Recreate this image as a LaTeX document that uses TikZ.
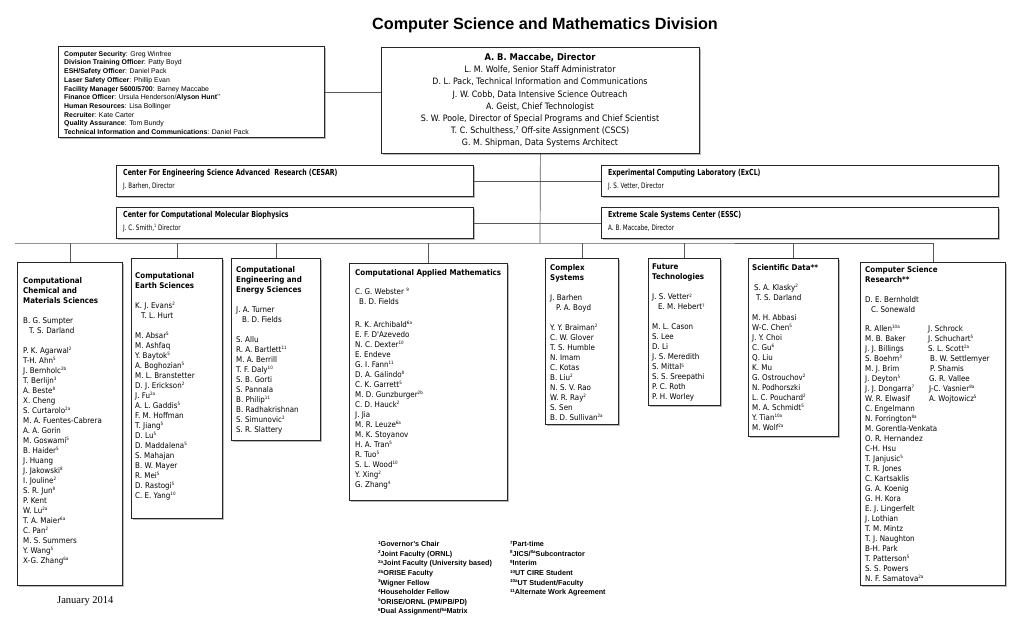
\documentclass[tikz,border=0pt]{standalone}
\usepackage{fontspec}
\setmainfont{Liberation Sans}
\newfontfamily\tah{DejaVu Sans}[FakeStretch=0.9]
\newfontfamily\cnd{DejaVu Sans}[FakeStretch=0.75]
\newfontfamily\tnr{Liberation Serif}
\usetikzlibrary{shadows}
\newcommand\su[1]{\raisebox{2.6pt}{\fontsize{4.5}{4.5}\selectfont #1}}
\newcommand\fsu[1]{\raisebox{2.4pt}{\fontsize{4.5}{4.5}\selectfont #1}}
\newcommand\ind{\hspace*{6pt}}
\newcommand\cf{\tah\fontsize{7.9}{10}\selectfont}
\tikzset{
  box/.style={draw=black!85, line width=0.8pt, fill=white, inner sep=0pt, anchor=north west,
    drop shadow={shadow xshift=1.6pt, shadow yshift=-1.6pt, fill=black!45, opacity=0.6}},
  txt/.style={anchor=north west, inner sep=0pt, align=left, font=\cf},
  conn/.style={draw=black!65, line width=0.7pt},
}
\begin{document}
\begin{tikzpicture}[x=1pt,y=-1pt]
\useasboundingbox (0,0) rectangle (1023,621);
\fill[white] (0,0) rectangle (1023,621);

\node[font=\fontsize{16.2}{18}\selectfont\bfseries, inner sep=0pt] (title) at (545,25) {Computer Science and Mathematics Division};

% admin box
\node[box, minimum width=266pt, minimum height=91pt] (admin) at (58,46) {};
\node[anchor=north west, inner sep=0pt, align=left, font=\fontsize{6.9}{8.7}\selectfont] (admint) at (64,51) {%
\textbf{Computer Security}: Greg Winfree\\
\textbf{Division Training Officer}: Patty Boyd\\
\textbf{ESH/Safety Officer}: Daniel Pack\\
\textbf{Laser Safety Officer}: Phillip Evan\\
\textbf{Facility Manager 5600/5700}: Barney Maccabe\\
\textbf{Finance Officer}: Ursula Henderson/\textbf{Alyson Hunt}\raisebox{2pt}{\fontsize{4.5}{4.5}\selectfont **}\\
\textbf{Human Resources}: Lisa Bollinger\\
\textbf{Recruiter}: Kate Carter\\
\textbf{Quality Assurance}: Tom Bundy\\
\textbf{Technical Information and Communications}: Daniel Pack};

% director box
\node[box, minimum width=318pt, minimum height=106pt] (dir) at (381,47) {};
\node[anchor=north, inner sep=0pt, align=center, font=\tah\fontsize{8.8}{12.1}\selectfont] (dirt) at (540,53.5) {%
\textbf{\fontsize{9.3}{11}\selectfont A. B. Maccabe, Director}\\
L. M. Wolfe, Senior Staff Administrator\\
D. L. Pack, Technical Information and Communications\\
J. W. Cobb, Data Intensive Science Outreach\\
A. Geist, Chief Technologist\\
S. W. Poole, Director of Special Programs and Chief Scientist\\
T. C. Schulthess,\raisebox{3pt}{\fontsize{5.5}{5.5}\selectfont 7} Off-site Assignment (CSCS)\\
G. M. Shipman, Data Systems Architect};

\draw[conn] (admin.east) -- (admin.east -| dir.west);

% center boxes
\node[box, minimum width=357pt, minimum height=31pt] (cesar) at (116,165) {};
\node[box, minimum width=397pt, minimum height=31pt] (excl) at (601,165) {};
\node[box, minimum width=357pt, minimum height=31pt] (cmb) at (116,207) {};
\node[box, minimum width=397pt, minimum height=31pt] (essc) at (601,207) {};
\tikzset{ctr/.style={anchor=north west, inner sep=0pt, align=left, font=\cnd\fontsize{7.5}{12.5}\selectfont}}
\node[ctr] (cesart) at (123,169) {\textbf{\fontsize{8.3}{9}\selectfont Center For Engineering Science Advanced\ \ Research (CESAR)}\\J. Barhen, Director};
\node[ctr] (exclt) at (608,169) {\textbf{\fontsize{8.3}{9}\selectfont Experimental Computing Laboratory (ExCL)}\\J. S. Vetter, Director};
\node[ctr] (cmbt) at (123,211) {\textbf{\fontsize{8.3}{9}\selectfont Center for Computational Molecular Biophysics}\\J. C. Smith,\raisebox{2.5pt}{\fontsize{4.5}{4.5}\selectfont 1} Director};
\node[ctr] (essct) at (608,211) {\textbf{\fontsize{8.3}{9}\selectfont Extreme Scale Systems Center (ESSC)}\\A. B. Maccabe, Director};

\coordinate (busc) at (540,243);
\coordinate (busl) at (15,243);
\draw[conn] (dir.south) -- (busc);
\draw[conn] (cesar.east) -- (excl.west);
\draw[conn] (cmb.east) -- (essc.west);

% columns
\node[box, minimum width=105pt, minimum height=323pt] (c1) at (17,262) {};
\node[box, minimum width=91pt, minimum height=260pt] (c2) at (131,258) {};
\node[box, minimum width=89pt, minimum height=182pt] (c3) at (231,258) {};
\node[box, minimum width=158pt, minimum height=237pt] (c4) at (349,263) {};
\node[box, minimum width=73pt, minimum height=166pt] (c5) at (545,258) {};
\node[box, minimum width=72pt, minimum height=147pt] (c6) at (648,258) {};
\node[box, minimum width=90pt, minimum height=178pt] (c7) at (748,258) {};
\node[box, minimum width=145pt, minimum height=323pt] (c8) at (860,262) {};

\draw[conn] (busl) -- (busc) -- (c8.north |- busc);
\foreach \c in {c1,c2,c3,c4,c5,c6,c7,c8} {\draw[conn] (\c.north |- busc) -- (\c.north);}

\node[txt] (c1t) at (23,277) {%
\textbf{Computational}\\\textbf{Chemical and}\\\textbf{Materials Sciences}\\[10pt]
B. G. Sumpter\\\ind T. S. Darland\\[10pt]
P. K. Agarwal\su{2}\\T-H. Ahn\su{5}\\J. Bernholc\su{2b}\\T. Berlijn\su{3}\\A. Beste\su{8}\\X. Cheng\\S. Curtarolo\su{2a}\\M. A. Fuentes-Cabrera\\A. A. Gorin\\M. Goswami\su{5}\\B. Haider\su{5}\\J. Huang\\J. Jakowski\su{8}\\I. Jouline\su{2}\\S. R. Jun\su{8}\\P. Kent\\W. Lu\su{2a}\\T. A. Maier\su{6a}\\C. Pan\su{2}\\M. S. Summers\\Y. Wang\su{5}\\X-G. Zhang\su{6a}};

\node[txt] (c2t) at (135,272) {%
\textbf{Computational}\\\textbf{Earth Sciences}\\[10pt]
K. J. Evans\su{2}\\\ind T. L. Hurt\\[10pt]
M. Absar\su{5}\\M. Ashfaq\\Y. Baytok\su{5}\\A. Boghozian\su{5}\\M. L. Branstetter\\D. J. Erickson\su{2}\\J. Fu\su{2a}\\A. L. Gaddis\su{5}\\F. M. Hoffman\\T. Jiang\su{5}\\D. Lu\su{5}\\D. Maddalena\su{5}\\S. Mahajan\\B. W. Mayer\\R. Mei\su{5}\\D. Rastogi\su{5}\\C. E. Yang\su{10}};

\node[txt] (c3t) at (236,266) {%
\textbf{Computational}\\\textbf{Engineering and}\\\textbf{Energy Sciences}\\[10pt]
J. A. Turner\\\ind B. D. Fields\\[10pt]
S. Allu\\R. A. Bartlett\su{11}\\M. A. Berrill\\T. F. Daly\su{10}\\S. B. Gorti\\S. Pannala\\B. Philip\su{11}\\B. Radhakrishnan\\S. Simunovic\su{2}\\S. R. Slattery};

\node[txt] (c4t) at (355,269) {%
\textbf{Computational Applied Mathematics}\\[9pt]
C. G. Webster \su{9}\\\hspace*{4pt}B. D. Fields\\[13pt]
R. K. Archibald\su{6a}\\E. F. D'Azevedo\\N. C. Dexter\su{10}\\E. Endeve\\G. I. Fann\su{11}\\D. A. Galindo\su{8}\\C. K. Garrett\su{5}\\M. D. Gunzburger\su{2b}\\C. D. Hauck\su{2}\\J. Jia\\M. R. Leuze\su{6a}\\M. K. Stoyanov\\H. A. Tran\su{5}\\R. Tuo\su{5}\\S. L. Wood\su{10}\\Y. Xing\su{2}\\G. Zhang\su{4}};

\node[txt] (c5t) at (550,264) {%
\textbf{Complex}\\\textbf{Systems}\\[10pt]
J. Barhen\\\ind P. A. Boyd\\[10pt]
Y. Y. Braiman\su{2}\\C. W. Glover\\T. S. Humble\\N. Imam\\C. Kotas\\B. Liu\su{2}\\N. S. V. Rao\\W. R. Ray\su{2}\\S. Sen\\B. D. Sullivan\su{2a}};

\node[txt] (c6t) at (652,264) {%
\textbf{Future}\\\textbf{Technologies}\\[10pt]
J. S. Vetter\su{2}\\\ind E. M. Hebert\su{7}\\[10pt]
M. L. Cason\\S. Lee\\D. Li\\J. S. Meredith\\S. Mittal\su{5}\\S. S. Sreepathi\\P. C. Roth\\P. H. Worley};

\node[txt] (c7t) at (752,264) {%
\textbf{Scientific Data**}\\[10pt]
\hspace*{2pt}S. A. Klasky\su{2}\\\hspace*{4pt}T. S. Darland\\[10pt]
M. H. Abbasi\\W-C. Chen\su{5}\\J. Y. Choi\\C. Gu\su{6}\\Q. Liu\\K. Mu\\G. Ostrouchov\su{2}\\N. Podhorszki\\L. C. Pouchard\su{2}\\M. A. Schmidt\su{5}\\Y. Tian\su{10a}\\M. Wolf\su{2a}};

\node[txt] (c8t) at (865,266) {%
\textbf{Computer Science}\\\textbf{Research**}\\[10pt]
D. E. Bernholdt\\\ind C. Sonewald};
\node[txt] (c8l) at (865,325) {%
R. Allen\su{10a}\\M. B. Baker\\J. J. Billings\\S. Boehm\su{3}\\M. J. Brim\\J. Deyton\su{5}\\J. J. Dongarra\su{7}\\W. R. Elwasif\\C. Engelmann\\N. Forrington\su{8a}\\M. Gorentla-Venkata\\O. R. Hernandez\\C-H. Hsu\\T. Janjusic\su{5}\\T. R. Jones\\C. Kartsaklis\\G. A. Koenig\\G. H. Kora\\E. J. Lingerfelt\\J. Lothian\\T. M. Mintz\\T. J. Naughton\\B-H. Park\\T. Patterson\su{5}\\S. S. Powers\\N. F. Samatova\su{2a}};
\node[txt] (c8r) at (928,325) {%
J. Schrock\\J. Schuchart\su{5}\\S. L. Scott\su{2a}\\\hspace*{2pt}B. W. Settlemyer\\\hspace*{2pt}P. Shamis\\\hspace*{1pt}G. R. Vallee\\\hspace*{1pt}J-C. Vasnier\su{8a}\\\hspace*{1pt}A. Wojtowicz\su{5}};

% footnotes
\tikzset{fn/.style={anchor=north west, inner sep=0pt, align=left, font=\fontsize{7.2}{9.6}\selectfont\bfseries}}
\node[fn] (fnl) at (378,541) {%
\fsu{1}Governor's Chair\\\fsu{2}Joint Faculty (ORNL)\\\fsu{2a}Joint Faculty (University based)\\\fsu{2b}ORISE Faculty\\\fsu{3}Wigner Fellow\\\fsu{4}Householder Fellow\\\fsu{5}ORISE/ORNL (PM/PB/PD)\\\fsu{6}Dual Assignment/\fsu{6a}Matrix};
\node[fn] (fnr) at (510,541) {%
\fsu{7}Part-time\\\fsu{8}JICS/\fsu{8a}Subcontractor\\\fsu{9}Interim\\\fsu{10}UT CIRE Student\\\fsu{10a}UT Student/Faculty\\\fsu{11}Alternate Work Agreement};

\node[anchor=west, inner sep=0pt, font=\tnr\fontsize{10.5}{12}\selectfont] (date) at (57,601) {January 2014};
\end{tikzpicture}
\end{document}
